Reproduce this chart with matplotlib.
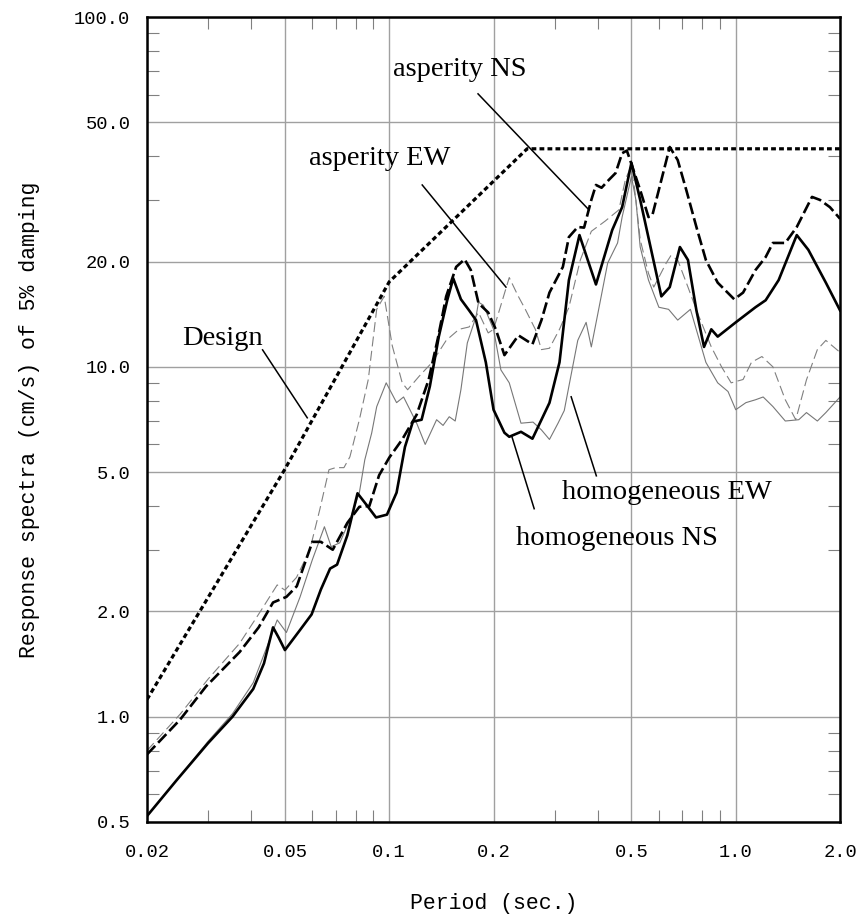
import matplotlib.pyplot as plt
from matplotlib.ticker import FixedLocator, FixedFormatter, NullFormatter

# Design spectrum
design_t = [0.02, 0.05, 0.1, 0.25, 2.0]
design_v = [1.12, 5.1, 17.5, 42.0, 42.0]

# asperity model, NS component
asp_ns_t = [0.02, 0.0249, 0.0296, 0.037, 0.042, 0.0462, 0.0505, 0.0541, 0.06, 0.0635,
            0.0687, 0.0757, 0.082, 0.0876, 0.0935, 0.1, 0.109, 0.12, 0.13, 0.138,
            0.146, 0.156, 0.165, 0.172, 0.181, 0.193, 0.203, 0.215, 0.236, 0.259,
            0.275, 0.29, 0.317, 0.33, 0.35, 0.365, 0.383, 0.395, 0.41, 0.43,
            0.45, 0.47, 0.485, 0.5, 0.53, 0.56, 0.575, 0.61, 0.645, 0.68,
            0.72, 0.77, 0.82, 0.887, 0.99, 1.05, 1.14, 1.22, 1.28, 1.39,
            1.5, 1.66, 1.75, 1.87, 2.0]
asp_ns_v = [0.78, 0.98, 1.22, 1.53, 1.8, 2.12, 2.2, 2.36, 3.16, 3.16,
            3.0, 3.58, 3.98, 4.0, 4.9, 5.5, 6.2, 7.3, 9.2, 12.0,
            15.9, 19.3, 20.3, 18.9, 15.2, 14.3, 12.8, 10.8, 12.3, 11.6,
            13.6, 16.3, 19.3, 23.5, 25.1, 25.0, 30.0, 33.1, 32.5, 34.2,
            35.8, 40.8, 41.5, 38.0, 32.0, 26.8, 27.2, 34.2, 42.5, 39.0,
            32.0, 25.1, 20.2, 17.4, 15.6, 16.3, 18.9, 20.6, 22.6, 22.6,
            25.1, 30.6, 30.0, 28.6, 26.5]

# asperity model, EW component
asp_ew_t = [0.02, 0.025, 0.03, 0.037, 0.0425, 0.0475, 0.05, 0.054, 0.059, 0.063,
            0.067, 0.07, 0.074, 0.077, 0.082, 0.087, 0.092, 0.0967, 0.102, 0.109,
            0.113, 0.122, 0.133, 0.146, 0.159, 0.17, 0.181, 0.193, 0.2, 0.21,
            0.222, 0.235, 0.247, 0.264, 0.275, 0.29, 0.31, 0.33, 0.356, 0.383,
            0.42, 0.46, 0.48, 0.497, 0.51, 0.53, 0.56, 0.58, 0.63, 0.65,
            0.68, 0.728, 0.777, 0.85, 0.91, 0.97, 1.05, 1.11, 1.19, 1.28,
            1.39, 1.49, 1.6, 1.72, 1.82, 2.0]
asp_ew_v = [0.80, 1.02, 1.28, 1.62, 2.0, 2.38, 2.3, 2.5, 3.0, 3.9,
            5.08, 5.15, 5.15, 5.53, 7.06, 9.2, 14.6, 15.9, 11.5, 9.0,
            8.6, 9.4, 10.3, 11.9, 12.8, 13.0, 14.3, 12.5, 12.8, 15.0,
            18.0, 16.0, 14.6, 12.8, 11.2, 11.3, 12.8, 14.8, 20.2, 24.4,
            26.1, 28.1, 34.2, 37.2, 32.6, 23.1, 18.5, 16.9, 19.8, 20.8,
            20.2, 16.9, 14.2, 11.4, 10.0, 9.0, 9.2, 10.3, 10.7, 10.0,
            8.05, 7.06, 9.18, 11.2, 11.9, 11.0]

# homogeneous model, NS component
hom_ns_t = [0.02, 0.0244, 0.03, 0.0353, 0.0405, 0.0435, 0.0462, 0.048, 0.05, 0.0553,
            0.0597, 0.0635, 0.0675, 0.0707, 0.0757, 0.081, 0.0865, 0.0916, 0.0985, 0.105,
            0.111, 0.117, 0.124, 0.131, 0.139, 0.147, 0.153, 0.161, 0.17, 0.178,
            0.19, 0.2, 0.215, 0.222, 0.24, 0.259, 0.275, 0.29, 0.31, 0.33,
            0.354, 0.374, 0.395, 0.44, 0.47, 0.5, 0.53, 0.57, 0.61, 0.645,
            0.69, 0.728, 0.77, 0.81, 0.85, 0.887, 1.0, 1.14, 1.22, 1.33,
            1.5, 1.62, 1.82, 2.0]
hom_ns_v = [0.52, 0.66, 0.84, 1.0, 1.2, 1.42, 1.80, 1.68, 1.55, 1.77,
            1.96, 2.31, 2.65, 2.72, 3.3, 4.35, 4.0, 3.71, 3.78, 4.37,
            5.9, 6.97, 7.06, 8.8, 12.2, 15.5, 17.9, 15.6, 14.5, 13.6,
            10.3, 7.54, 6.48, 6.31, 6.52, 6.23, 7.06, 7.89, 10.3, 17.7,
            23.8, 20.2, 17.2, 24.6, 28.6, 38.3, 30.0, 21.6, 15.9, 16.9,
            22.0, 20.2, 14.5, 11.4, 12.8, 12.2, 13.4, 14.8, 15.5, 17.7,
            23.8, 21.6, 17.4, 14.5]

# homogeneous model, EW component
hom_ew_t = [0.02, 0.0244, 0.03, 0.0353, 0.0405, 0.044, 0.0475, 0.0505, 0.0553, 0.06,
            0.065, 0.068, 0.072, 0.077, 0.082, 0.085, 0.089, 0.092, 0.098, 0.105,
            0.11, 0.12, 0.127, 0.137, 0.143, 0.149, 0.155, 0.161, 0.168, 0.178,
            0.181, 0.187, 0.2, 0.21, 0.222, 0.24, 0.26, 0.275, 0.29, 0.307,
            0.32, 0.33, 0.35, 0.37, 0.383, 0.4, 0.427, 0.456, 0.47, 0.5,
            0.515, 0.53, 0.56, 0.6, 0.64, 0.68, 0.74, 0.82, 0.887, 0.95,
            1.0, 1.07, 1.14, 1.2, 1.28, 1.39, 1.52, 1.6, 1.72, 1.82, 2.0]
hom_ew_v = [0.52, 0.66, 0.85, 1.02, 1.25, 1.55, 1.89, 1.74, 2.2, 2.81,
            3.49, 3.06, 3.14, 3.66, 4.37, 5.42, 6.47, 7.69, 9.0, 7.9,
            8.2, 6.9, 6.0, 7.06, 6.8, 7.2, 7.0, 8.6, 11.7, 13.9,
            15.3, 15.0, 12.8, 9.8, 9.0, 6.9, 6.95, 6.6, 6.2, 6.9,
            7.5, 8.8, 11.9, 13.4, 11.4, 14.2, 19.8, 22.6, 26.8, 35.0,
            30.0, 22.0, 17.7, 14.8, 14.6, 13.6, 14.6, 10.3, 9.0, 8.5,
            7.54, 7.9, 8.05, 8.2, 7.7, 7.0, 7.06, 7.4, 7.0, 7.4, 8.2]

x_major = [0.02, 0.05, 0.1, 0.2, 0.5, 1.0, 2.0]
x_labels = ['0.02', '0.05', '0.1', '0.2', '0.5', '1.0', '2.0']
x_minor = [0.03, 0.04, 0.06, 0.07, 0.08, 0.09, 0.3, 0.4, 0.6, 0.7, 0.8, 0.9]
y_major = [0.5, 1.0, 2.0, 5.0, 10.0, 20.0, 50.0, 100.0]
y_labels = ['0.5', '1.0', '2.0', '5.0', '10.0', '20.0', '50.0', '100.0']
y_minor = [0.6, 0.7, 0.8, 0.9, 3, 4, 6, 7, 8, 9, 30, 40, 60, 70, 80, 90]

mono = 'Liberation Mono'
serif = 'Liberation Serif'

fig = plt.figure(figsize=(8.68, 9.14), dpi=100)
ax = fig.add_axes([0.1694, 0.1007, 0.7984, 0.8807])
ax.set_xscale('log')
ax.set_yscale('log')
ax.set_xlim(0.02, 2.0)
ax.set_ylim(0.5, 100.0)

ax.plot(hom_ew_t, hom_ew_v, color='#777777', lw=0.8)
ax.plot(asp_ew_t, asp_ew_v, color='#808080', lw=0.8, linestyle=(0, (9, 4)))
ax.plot(hom_ns_t, hom_ns_v, color='black', lw=1.9)
ax.plot(asp_ns_t, asp_ns_v, color='black', lw=1.9, linestyle=(0, (4.5, 1.6)))
ax.plot(design_t, design_v, color='black', lw=2.3, linestyle=(0, (1.5, 1.0)))

# axis ticks, labels and grid
ax.xaxis.set_major_locator(FixedLocator(x_major))
ax.xaxis.set_major_formatter(FixedFormatter(x_labels))
ax.xaxis.set_minor_locator(FixedLocator(x_minor))
ax.xaxis.set_minor_formatter(NullFormatter())
ax.yaxis.set_major_locator(FixedLocator(y_major))
ax.yaxis.set_major_formatter(FixedFormatter(y_labels))
ax.yaxis.set_minor_locator(FixedLocator(y_minor))
ax.yaxis.set_minor_formatter(NullFormatter())

ax.grid(True, which='major', color='#a0a0a0', lw=1.0)
ax.tick_params(which='major', length=0, labelsize=13.5)
ax.tick_params(axis='x', which='major', pad=16)
ax.tick_params(axis='y', which='major', pad=12)
ax.tick_params(which='minor', direction='in', length=8.5, width=0.8, color='#808080',
               top=True, right=True)
for lab in ax.get_xticklabels() + ax.get_yticklabels():
    lab.set_fontfamily(mono)
for sp in ax.spines.values():
    sp.set_linewidth(1.8)

ax.set_xlabel('Period (sec.)', fontsize=15.5, fontfamily=mono)
ax.set_ylabel('Response spectra (cm/s) of 5% damping', fontsize=15.5, fontfamily=mono)
ax.xaxis.set_label_coords(0.5, -0.088)
ax.yaxis.set_label_coords(-0.154, 0.5)

# curve names with leader lines
notes = [
    ('Design', 0.0252, 11.55, (0.0431, 0.058), (11.18, 7.15)),
    ('asperity NS', 0.1027, 67.9, (0.1804, 0.377), (60.3, 28.1)),
    ('asperity EW', 0.0588, 37.8, (0.1245, 0.2172), (33.1, 16.9)),
    ('homogeneous EW', 0.315, 4.196, (0.335, 0.396), (8.21, 4.88)),
    ('homogeneous NS', 0.2323, 3.103, (0.226, 0.262), (6.31, 3.93)),
]
for name, tx, ty, lx, ly in notes:
    ax.text(tx, ty, name, fontsize=20.5, fontfamily=serif, ha='left', va='baseline')
    ax.plot(lx, ly, color='black', lw=1.1)

fig.savefig('out.png', dpi=100)
